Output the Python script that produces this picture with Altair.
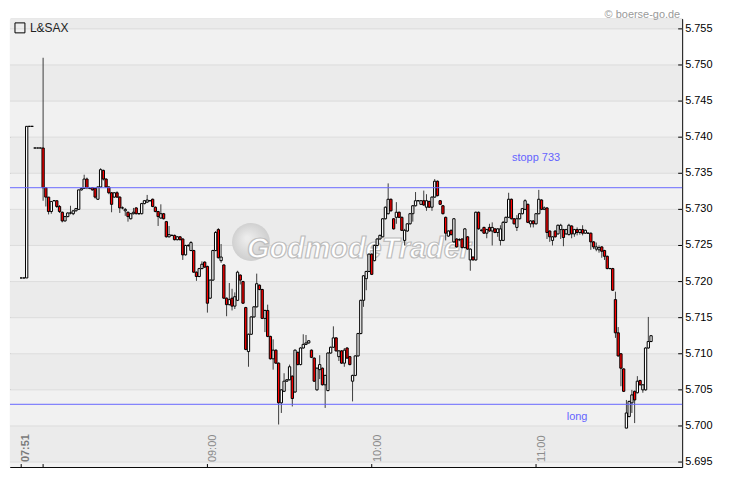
import altair as alt
import pandas as pd

# ---------------- data ----------------
minute = list(range(1, 232))  # one candle per minute slot

open_ = [
 5.7205,5.7205,5.7205,5.7415,5.7415,5.7385,5.7385,5.7385,5.7385,5.7330,
 5.7317,5.7297,5.7312,5.7312,5.7304,5.7296,5.7284,5.7290,5.7295,5.7294,
 5.7298,5.7300,5.7327,5.7329,5.7342,5.7329,5.7330,5.7329,5.7314,5.7331,
 5.7354,5.7342,5.7331,5.7323,5.7317,5.7323,5.7317,5.7302,5.7298,5.7296,
 5.7287,5.7294,5.7302,5.7294,5.7294,5.7308,5.7310,5.7312,5.7314,5.7303,
 5.7297,5.7288,5.7294,5.7283,5.7262,5.7264,5.7264,5.7258,5.7262,5.7259,
 5.7237,5.7250,5.7243,5.7243,5.7213,5.7207,5.7218,5.7227,5.7221,5.7177,
 5.7202,5.7243,5.7272,5.7229,5.7223,5.7177,5.7168,5.7177,5.7166,5.7174,
 5.7209,5.7200,5.7164,5.7103,5.7127,5.7151,5.7165,5.7195,5.7189,5.7149,
 5.7160,5.7124,5.7093,5.7105,5.7087,5.7032,5.7048,5.7062,5.7064,5.7069,
 5.7047,5.7102,5.7085,5.7108,5.7113,5.7115,5.7105,5.7094,5.7050,5.7078,
 5.7080,5.7057,5.7049,5.7101,5.7109,5.7122,5.7096,5.7104,5.7087,5.7108,
 5.7096,5.7062,5.7070,5.7097,5.7128,5.7174,5.7204,5.7214,5.7238,5.7229,
 5.7250,5.7259,5.7262,5.7287,5.7294,5.7314,5.7287,5.7289,5.7296,5.7289,
 5.7257,5.7270,5.7280,5.7294,5.7305,5.7312,5.7307,5.7312,5.7303,5.7311,
 5.7303,5.7317,5.7339,5.7312,5.7305,5.7289,5.7263,5.7271,5.7255,5.7259,
 5.7258,5.7259,5.7247,5.7262,5.7230,5.7234,5.7230,5.7296,5.7271,5.7275,
 5.7267,5.7275,5.7270,5.7273,5.7268,5.7257,5.7257,5.7282,5.7289,5.7314,
 5.7287,5.7275,5.7287,5.7294,5.7300,5.7307,5.7280,5.7284,5.7280,5.7294,
 5.7313,5.7300,5.7302,5.7270,5.7257,5.7270,5.7266,5.7272,5.7272,5.7266,
 5.7265,5.7277,5.7266,5.7272,5.7268,5.7272,5.7267,5.7267,5.7267,5.7255,
 5.7245,5.7244,5.7248,5.7243,5.7235,5.7218,5.7218,5.7175,5.7129,5.7100,
 5.7079,5.6997,5.7013,5.7032,5.7048,5.7046,5.7063,5.7050,5.7050,5.7108,
 5.7117]

high = [
 5.7205,5.7205,5.7415,5.7415,5.7415,5.7385,5.7385,5.7385,5.7510,5.7330,
 5.7317,5.7311,5.7312,5.7312,5.7306,5.7297,5.7291,5.7296,5.7305,5.7299,
 5.7302,5.7327,5.7330,5.7348,5.7344,5.7331,5.7331,5.7330,5.7332,5.7357,
 5.7355,5.7343,5.7332,5.7324,5.7324,5.7325,5.7318,5.7304,5.7302,5.7297,
 5.7295,5.7302,5.7303,5.7295,5.7309,5.7313,5.7320,5.7313,5.7315,5.7304,
 5.7298,5.7307,5.7295,5.7284,5.7277,5.7265,5.7265,5.7263,5.7263,5.7260,
 5.7251,5.7252,5.7256,5.7244,5.7214,5.7219,5.7228,5.7228,5.7222,5.7203,
 5.7244,5.7270,5.7274,5.7252,5.7224,5.7178,5.7198,5.7190,5.7185,5.7215,
 5.7210,5.7201,5.7165,5.7128,5.7152,5.7166,5.7211,5.7196,5.7190,5.7161,
 5.7168,5.7125,5.7120,5.7106,5.7088,5.7051,5.7073,5.7065,5.7085,5.7070,
 5.7106,5.7103,5.7109,5.7127,5.7126,5.7119,5.7106,5.7095,5.7081,5.7098,
 5.7081,5.7071,5.7102,5.7110,5.7138,5.7123,5.7105,5.7105,5.7108,5.7109,
 5.7097,5.7071,5.7098,5.7129,5.7175,5.7209,5.7215,5.7239,5.7239,5.7251,
 5.7260,5.7265,5.7288,5.7304,5.7336,5.7315,5.7288,5.7310,5.7297,5.7290,
 5.7273,5.7281,5.7295,5.7306,5.7324,5.7313,5.7313,5.7326,5.7321,5.7312,
 5.7318,5.7342,5.7340,5.7313,5.7306,5.7290,5.7271,5.7272,5.7288,5.7260,
 5.7260,5.7260,5.7274,5.7263,5.7246,5.7235,5.7297,5.7297,5.7273,5.7276,
 5.7273,5.7280,5.7282,5.7274,5.7274,5.7278,5.7284,5.7290,5.7323,5.7315,
 5.7288,5.7292,5.7295,5.7302,5.7314,5.7308,5.7285,5.7285,5.7295,5.7327,
 5.7314,5.7304,5.7303,5.7271,5.7263,5.7271,5.7279,5.7280,5.7273,5.7273,
 5.7280,5.7278,5.7273,5.7275,5.7273,5.7278,5.7272,5.7268,5.7268,5.7256,
 5.7254,5.7250,5.7249,5.7244,5.7236,5.7219,5.7219,5.7186,5.7137,5.7101,
 5.7080,5.7036,5.7035,5.7050,5.7049,5.7069,5.7064,5.7058,5.7109,5.7151,
 5.7126]

low = [
 5.7205,5.7205,5.7205,5.7415,5.7415,5.7385,5.7385,5.7385,5.7312,5.7304,
 5.7293,5.7294,5.7312,5.7302,5.7295,5.7282,5.7283,5.7289,5.7293,5.7292,
 5.7297,5.7300,5.7326,5.7329,5.7328,5.7328,5.7326,5.7315,5.7313,5.7330,
 5.7340,5.7330,5.7321,5.7296,5.7316,5.7316,5.7295,5.7300,5.7291,5.7283,
 5.7286,5.7293,5.7293,5.7293,5.7293,5.7307,5.7309,5.7311,5.7303,5.7296,
 5.7277,5.7287,5.7286,5.7261,5.7261,5.7263,5.7257,5.7257,5.7257,5.7230,
 5.7236,5.7248,5.7242,5.7212,5.7201,5.7206,5.7217,5.7219,5.7157,5.7176,
 5.7201,5.7242,5.7232,5.7226,5.7176,5.7152,5.7167,5.7160,5.7162,5.7173,
 5.7196,5.7169,5.7105,5.7082,5.7126,5.7150,5.7164,5.7188,5.7148,5.7130,
 5.7123,5.7092,5.7078,5.7086,5.7002,5.7018,5.7047,5.7061,5.7063,5.7027,
 5.7046,5.7084,5.7084,5.7107,5.7112,5.7114,5.7094,5.7061,5.7049,5.7065,
 5.7056,5.7025,5.7048,5.7100,5.7108,5.7103,5.7090,5.7086,5.7082,5.7093,
 5.7084,5.7034,5.7069,5.7096,5.7127,5.7165,5.7188,5.7213,5.7209,5.7228,
 5.7249,5.7258,5.7261,5.7286,5.7293,5.7297,5.7272,5.7280,5.7288,5.7270,
 5.7250,5.7269,5.7279,5.7283,5.7304,5.7311,5.7306,5.7305,5.7298,5.7302,
 5.7298,5.7316,5.7318,5.7306,5.7293,5.7257,5.7262,5.7264,5.7254,5.7247,
 5.7256,5.7246,5.7246,5.7244,5.7215,5.7229,5.7229,5.7272,5.7269,5.7266,
 5.7260,5.7269,5.7250,5.7267,5.7262,5.7250,5.7256,5.7281,5.7288,5.7286,
 5.7279,5.7270,5.7286,5.7293,5.7299,5.7281,5.7275,5.7275,5.7279,5.7293,
 5.7299,5.7299,5.7259,5.7255,5.7250,5.7261,5.7265,5.7259,5.7249,5.7265,
 5.7264,5.7260,5.7262,5.7264,5.7265,5.7264,5.7266,5.7266,5.7244,5.7245,
 5.7242,5.7240,5.7233,5.7230,5.7217,5.7217,5.7187,5.7122,5.7096,5.7055,
 5.7047,5.6997,5.7012,5.7018,5.7004,5.7045,5.7056,5.7046,5.7049,5.7107,
 5.7116]

close = [
 5.7205,5.7205,5.7415,5.7415,5.7415,5.7385,5.7385,5.7385,5.7330,5.7317,
 5.7297,5.7311,5.7312,5.7304,5.7297,5.7284,5.7290,5.7295,5.7295,5.7298,
 5.7301,5.7327,5.7329,5.7342,5.7330,5.7329,5.7327,5.7317,5.7331,5.7355,
 5.7342,5.7331,5.7323,5.7307,5.7323,5.7317,5.7302,5.7302,5.7300,5.7290,
 5.7294,5.7296,5.7294,5.7294,5.7308,5.7312,5.7313,5.7312,5.7304,5.7297,
 5.7290,5.7294,5.7287,5.7262,5.7265,5.7264,5.7258,5.7262,5.7258,5.7237,
 5.7250,5.7250,5.7254,5.7213,5.7207,5.7218,5.7224,5.7220,5.7170,5.7202,
 5.7243,5.7268,5.7233,5.7234,5.7177,5.7168,5.7175,5.7166,5.7179,5.7213,
 5.7202,5.7170,5.7106,5.7127,5.7151,5.7165,5.7197,5.7189,5.7149,5.7160,
 5.7124,5.7093,5.7105,5.7087,5.7032,5.7050,5.7062,5.7064,5.7082,5.7038,
 5.7105,5.7085,5.7108,5.7113,5.7115,5.7118,5.7095,5.7062,5.7080,5.7085,
 5.7057,5.7070,5.7101,5.7109,5.7122,5.7104,5.7104,5.7087,5.7105,5.7094,
 5.7085,5.7070,5.7097,5.7128,5.7174,5.7208,5.7214,5.7238,5.7210,5.7250,
 5.7259,5.7264,5.7287,5.7303,5.7314,5.7298,5.7273,5.7296,5.7289,5.7271,
 5.7271,5.7280,5.7294,5.7305,5.7312,5.7312,5.7312,5.7306,5.7312,5.7303,
 5.7317,5.7339,5.7319,5.7307,5.7294,5.7267,5.7270,5.7265,5.7287,5.7248,
 5.7258,5.7247,5.7273,5.7245,5.7245,5.7230,5.7296,5.7273,5.7271,5.7267,
 5.7272,5.7270,5.7275,5.7268,5.7273,5.7273,5.7282,5.7289,5.7314,5.7287,
 5.7280,5.7287,5.7294,5.7301,5.7312,5.7282,5.7284,5.7280,5.7294,5.7314,
 5.7300,5.7302,5.7268,5.7262,5.7262,5.7262,5.7278,5.7278,5.7261,5.7272,
 5.7278,5.7266,5.7272,5.7268,5.7272,5.7267,5.7271,5.7267,5.7255,5.7248,
 5.7248,5.7247,5.7242,5.7235,5.7218,5.7218,5.7188,5.7129,5.7097,5.7080,
 5.7048,5.7018,5.7034,5.7043,5.7036,5.7062,5.7057,5.7057,5.7108,5.7117,
 5.7125]

time_tick_minute = [1, 9, 69, 129, 189]
time_tick_label = ["07:51", "", "09:00", "10:00", "11:00"]
price_ticks = [5.695, 5.700, 5.705, 5.710, 5.715, 5.720, 5.725,
               5.730, 5.735, 5.740, 5.745, 5.750, 5.755]
level_values = [5.733, 5.703]
level_labels = ["stopp 733", "long"]
level_label_minute = [189, 204]
level_label_price = [5.7371, 5.7012]

# ---------------- layout ----------------
W, H = 675, 450
FONT = "Liberation Sans, Arial, sans-serif"
xs = alt.Scale(domain=[-3.09, 242.36], nice=False, zero=False, padding=0)
ys = alt.Scale(domain=[5.69431, 5.75638], nice=False, zero=False, padding=0)

candles = pd.DataFrame({"minute": minute, "open": open_, "high": high,
                        "low": low, "close": close})

band_lo = [5.690] + price_ticks
band_hi = price_ticks + [5.760]
bands = pd.DataFrame({"lo": band_lo, "hi": band_hi})
bands["shade"] = ["light" if round((5.750 - v) / 0.005) % 2 == 0 else "dark" for v in band_lo]

grid = pd.DataFrame({"price": price_ticks})
ticks_t = pd.DataFrame({"minute": time_tick_minute, "label": time_tick_label})
levels = pd.DataFrame({"price": level_values})
level_text = pd.DataFrame({"minute": level_label_minute, "price": level_label_price,
                           "label": level_labels})
one = pd.DataFrame({"k": [0]})

band_layer = alt.Chart(bands).mark_rect(clip=True).encode(
    x=alt.value(0), x2=alt.value(W),
    y=alt.Y("lo:Q", scale=ys, axis=None), y2="hi:Q",
    fill=alt.Fill("shade:N", scale=alt.Scale(domain=["light", "dark"],
                                             range=["#f1f1f1", "#ebebeb"]), legend=None),
)

grid_layer = alt.Chart(grid).mark_rule(color="#dcdcdc", strokeWidth=1).encode(
    y=alt.Y("price:Q", scale=ys, axis=None),
    x=alt.value(0), x2=alt.value(W),
)

ylabel_layer = alt.Chart(grid).transform_calculate(
    label="format(datum.price, '.3f')"
).mark_text(font=FONT, fontSize=11, color="#000000", align="left",
            baseline="middle").encode(
    y=alt.Y("price:Q", scale=ys, axis=None),
    x=alt.value(W + 3),
    text="label:N",
)

wm_circle = alt.Chart(one).mark_circle(
    size=1450, opacity=1,
    fill={"gradient": "radial", "x1": 0.4, "y1": 0.4, "r1": 0.05,
          "x2": 0.5, "y2": 0.5, "r2": 0.55,
          "stops": [{"offset": 0, "color": "#ececec"}, {"offset": 1, "color": "#cccccc"}]},
).encode(x=alt.value(242), y=alt.value(224))

WM_FONT = "Liberation Sans, Arial, sans-serif"
wm_text = alt.Chart(one).mark_text(
    text="GodmodeTrader", font=WM_FONT,
    fontSize=29, fontWeight="bold", fontStyle="italic", color="#ffffff",
    stroke="#bdbdbd", strokeWidth=1.2,
    align="left", baseline="alphabetic",
).encode(x=alt.value(238), y=alt.value(240))

wicks = alt.Chart(candles).mark_rule(color="#3c3c3c", strokeWidth=1).encode(
    x=alt.X("minute:Q", scale=xs, axis=None),
    y=alt.Y("low:Q", scale=ys, axis=None), y2="high:Q",
)

bodies = alt.Chart(candles).mark_bar(size=2.3, stroke="#000000", strokeWidth=1).encode(
    x=alt.X("minute:Q", scale=xs, axis=None),
    y=alt.Y("open:Q", scale=ys, axis=None), y2="close:Q",
    fill=alt.condition("datum.close < datum.open", alt.value("#ff0000"), alt.value("#ffffff")),
)

level_lines = alt.Chart(levels).mark_rule(color="#6868ff", strokeWidth=1).encode(
    y=alt.Y("price:Q", scale=ys, axis=None), x=alt.value(0), x2=alt.value(W),
)

level_labels_layer = alt.Chart(level_text).mark_text(
    color="#6464ff", font=FONT, fontSize=11, align="center", baseline="middle",
).encode(
    x=alt.X("minute:Q", scale=xs, axis=None),
    y=alt.Y("price:Q", scale=ys, axis=None),
    text="label:N",
)

ytick_layer = alt.Chart(grid).mark_rule(color="#000000", strokeWidth=1).encode(
    y=alt.Y("price:Q", scale=ys, axis=None), x=alt.value(W - 4), x2=alt.value(W),
)

xtick_layer = alt.Chart(ticks_t).mark_rule(color="#000000", strokeWidth=1).encode(
    x=alt.X("minute:Q", scale=xs, axis=None), y=alt.value(H - 3), y2=alt.value(H),
)

xlab_first = alt.Chart(ticks_t).transform_filter("datum.label == '07:51'").mark_text(
    angle=270, align="left", baseline="middle", font=FONT, fontSize=11,
    fontWeight="bold", color="#7a7a7a", xOffset=5,
).encode(x=alt.X("minute:Q", scale=xs, axis=None), y=alt.value(445), text="label:N")

xlab_rest = alt.Chart(ticks_t).transform_filter(
    "datum.label != '07:51' && datum.label != ''").mark_text(
    angle=270, align="left", baseline="middle", font=FONT, fontSize=11,
    color="#8c8c8c", xOffset=6,
).encode(x=alt.X("minute:Q", scale=xs, axis=None), y=alt.value(445), text="label:N")

legend_box = alt.Chart(one).mark_square(size=100, filled=False, color="#000000",
                                        strokeWidth=1, opacity=1).encode(
    x=alt.value(10), y=alt.value(9))
legend_text = alt.Chart(one).mark_text(text="L&SAX", font=FONT, fontSize=12, color="#222222",
                                       align="left", baseline="middle").encode(
    x=alt.value(20), y=alt.value(9))

copyright_text = alt.Chart(one).mark_text(text="© boerse-go.de", font=FONT, fontSize=11,
                                          color="#9a9a9a", align="right",
                                          baseline="middle").encode(
    x=alt.value(673), y=alt.value(-4))

chart = alt.layer(
    band_layer, grid_layer, ylabel_layer, wm_circle, wm_text, wicks, bodies,
    level_lines, level_labels_layer, ytick_layer, xtick_layer, xlab_first, xlab_rest,
    legend_box, legend_text, copyright_text,
).properties(
    width=W, height=H,
    autosize=alt.AutoSizeParams(type="none"),
    padding={"left": 2, "top": 10, "right": 40, "bottom": 0},
    background="#ffffff",
).configure_view(stroke="#000000", strokeWidth=1)

chart.save("out.html", embed_options={"renderer": "svg", "actions": False})
